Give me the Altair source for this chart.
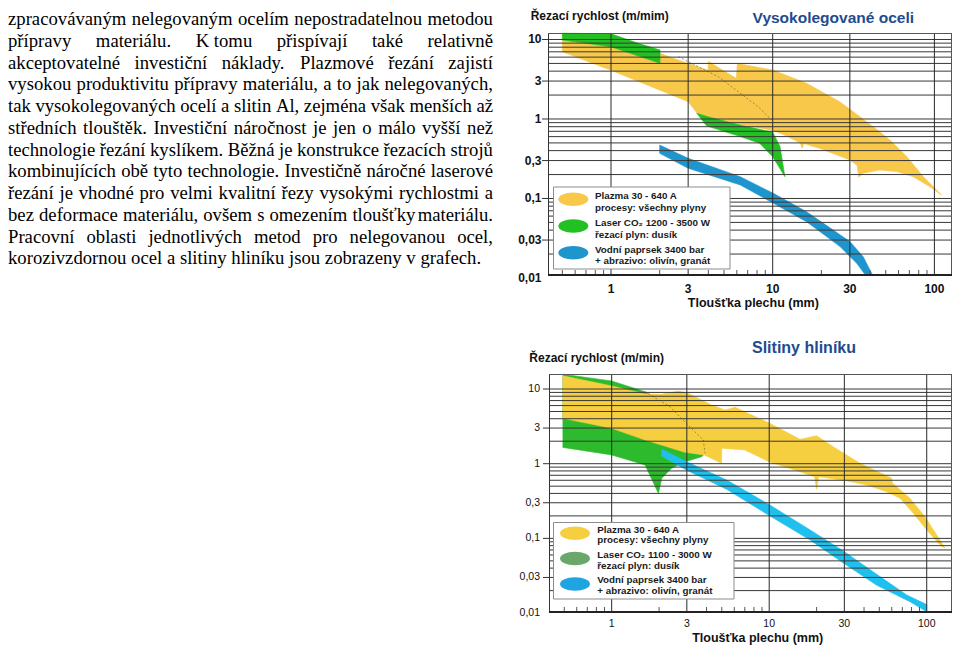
import unicodedata
import altair as alt
import pandas as pd

# ---------------- text of the page ----------------
PARAGRAPH = [
    "zpracovávaným nelegovaným ocelím nepostradatelnou metodou",
    "přípravy materiálu. K\u00a0tomu přispívají také relativně",
    "akceptovatelné investiční náklady. Plazmové řezání zajistí",
    "vysokou produktivitu přípravy materiálu, a to jak nelegovaných,",
    "tak vysokolegovaných ocelí a slitin Al, zejména však menších až",
    "středních tlouštěk. Investiční náročnost je jen o málo vyšší než",
    "technologie řezání kyslíkem. Běžná je konstrukce řezacích strojů",
    "kombinujících obě tyto technologie. Investičně náročné laserové",
    "řezání je vhodné pro velmi kvalitní řezy vysokými rychlostmi a",
    "bez deformace materiálu, ovšem s omezením tloušťky materiálu.",
    "Pracovní oblasti jednotlivých metod pro nelegovanou ocel,",
    "korozivzdornou ocel a slitiny hliníku jsou zobrazeny v grafech.",
]

# ---------------- shared chart texts ----------------
X_TITLE = "Tloušťka plechu (mm)"
Y_TICKS = [10, 3, 1, 0.3, 0.1, 0.03, 0.01]
Y_TICK_LABELS = ["10", "3", "1", "0,3", "0,1", "0,03", "0,01"]
X_TICKS = [1, 3, 10, 30, 100]
X_TICK_LABELS = ["1", "3", "10", "30", "100"]

# ---------------- chart 1: Vysokolegované oceli ----------------
T_TITLE = "Vysokolegované oceli"
T_YTITLE = "Řezací rychlost (m/mim)"
T_LEGEND = [("Plazma 30 - 640 A", "procesy: všechny plyny"),
            ("Laser CO₂  1200 - 3500 W", "řezací plyn: dusík"),
            ("Vodní paprsek 3400 bar", "+ abrazivo: olivín, granát")]

T_PLASMA_X = [0.5, 1.0, 2.0, 3.0, 3.98, 4.0, 5.95, 6.05, 10.0, 16.2, 26.0, 41.9, 53.3, 67.6, 85.5, 111,
              94, 74, 58.5, 46, 36.3, 34, 33.3, 30, 20, 15.6, 15.2, 14.8, 12, 10, 6.6, 4.1, 3.4, 3.0, 1.0, 0.5]
T_PLASMA_Y = [9.8, 8.6, 6.7, 5.0, 4.1, 5.3, 3.25, 5.0, 4.13, 2.81, 1.65, 0.80, 0.54, 0.336, 0.188, 0.11,
              0.14, 0.188, 0.218, 0.228, 0.208, 0.185, 0.26, 0.305, 0.42, 0.49, 0.43, 0.5, 0.62, 0.72, 0.84, 1.05, 1.19, 1.65, 4.1, 7.0]
T_LASER1_X = [0.5, 1.0, 1.475, 2.01, 2.01, 1.0, 0.5]
T_LASER1_Y = [12.0, 11.8, 8.94, 7.37, 5.02, 8.1, 9.85]
T_LASER2_X = [3.39, 4.1, 6.3, 10.0, 11.1, 11.9, 10.0, 8.3, 6.3, 3.9]
T_LASER2_Y = [1.18, 1.05, 0.84, 0.68, 0.45, 0.188, 0.335, 0.495, 0.60, 0.82]
T_WATER_X = [2.0, 3.0, 6.3, 10.1, 16.2, 23.7, 30.1, 36.3, 40.9, 41.6,
             37.4, 33.1, 26.1, 16.2, 10.1, 6.3, 3.0, 2.0]
T_WATER_Y = [0.47, 0.32, 0.188, 0.116, 0.068, 0.040, 0.0286, 0.0185, 0.0115, 0.0109,
             0.0109, 0.0153, 0.0248, 0.051, 0.087, 0.148, 0.24, 0.37]
T_DOTTED_X = [2.61, 4.61, 8.12, 9.85]
T_DOTTED_Y = [6.07, 3.4, 1.43, 0.97]

# ---------------- chart 2: Slitiny hliníku ----------------
B_TITLE = "Slitiny hliníku"
B_YTITLE = "Řezací rychlost (m/min)"
B_LEGEND = [("Plazma 30 - 640 A", "procesy: všechny plyny"),
            ("Laser CO₂ 1100 - 3000 W", "řezací plyn: dusík"),
            ("Vodní paprsek 3400 bar", "+ abrazivo: olivín, granát")]

B_PLASMA_X = [0.49, 1.0, 1.63, 2.08, 2.65, 3.06, 4.31, 5.24, 6.07, 10.0, 15.7, 20.0, 25.5, 37.7, 59.9, 60.5,
              78.3, 97.5, 115.7, 130.6, 121.4, 100, 82.2, 67.7, 55.7, 41.6, 29.5, 20.6, 20.0, 19.4, 15.7,
              10.0, 7.0, 5.0, 4.98, 3.87, 2.92, 1.63, 1.0, 0.49]
B_PLASMA_Y = [15.0, 11.0, 8.6, 8.5, 9.4, 8.75, 6.1, 5.24, 5.69, 3.5, 2.12, 2.37, 1.69, 1.01, 0.64, 0.55,
              0.344, 0.195, 0.111, 0.074, 0.082, 0.13, 0.217, 0.344, 0.422, 0.519, 0.60, 0.67, 0.454, 0.67, 0.78,
              1.06, 1.53, 1.61, 1.01, 1.31, 1.42, 2.08, 2.98, 4.05]
B_LASER_X = [0.49, 1.0, 1.63, 2.34, 3.14, 3.82, 3.91, 3.73, 2.92, 2.40, 2.08, 1.98, 1.63, 1.0, 0.49]
B_LASER_Y = [15.8, 12.8, 9.2, 5.8, 3.1, 2.08, 1.38, 1.24, 1.06, 0.87, 0.64, 0.40, 0.96, 1.31, 1.65]
B_WATER_X = [2.08, 2.99, 5.37, 10.1, 18.2, 29.5, 48.2, 74.6, 100, 100,
             78.3, 48.2, 29.5, 18.2, 10.1, 5.37, 2.99, 2.08]
B_WATER_Y = [1.56, 1.06, 0.605, 0.28, 0.13, 0.068, 0.033, 0.0175, 0.0130, 0.0104,
             0.0142, 0.0235, 0.047, 0.095, 0.2, 0.454, 0.82, 1.27]
B_DOTTED_X = [1.63, 2.34, 3.14, 3.82, 3.91]
B_DOTTED_Y = [9.2, 5.8, 3.1, 2.08, 1.38]

# ---------------- styles ----------------
SANS = "Liberation Sans"
SERIF = "Liberation Serif"
GRID = "#383838"
TITLE_BLUE = "#1f4b8e"
T_COLORS = ["#f8c84a", "#22c022", "#1e96cd"]
B_COLORS = ["#f6cf40", "#2dbb2d", "#20c0ee"]
T_LEG_COLORS = ["#f8c84a", "#22c022", "#1e96cd"]
B_LEG_COLORS = ["#f6cf40", "#6aa86a", "#1ea4e0"]
ELLIPSE = "M-1,0A1,0.45,0,1,1,1,0A1,0.45,0,1,1,-1,0Z"
MINOR_X = [0.5, 0.6, 0.7, 0.8, 0.9, 2, 4, 5, 6, 7, 8, 9, 20, 40, 50, 60, 70, 80, 90]

W, H = 944, 640


def log_grid(lo, hi):
    vals = []
    for e in range(-2, 2):
        for k in range(1, 10):
            v = k * 10 ** e
            if lo < v <= hi:
                vals.append(round(v, 6))
    return vals


def poly(xs, ys, color, sx, sy):
    df = pd.DataFrame({"x": list(xs) + [xs[0]], "y": list(ys) + [ys[0]],
                       "i": list(range(len(xs) + 1))})
    return alt.Chart(df).mark_line(fill=color, stroke=color, strokeWidth=0.6,
                                   strokeJoin="round").encode(
        x=alt.X("x:Q", scale=sx, axis=None),
        y=alt.Y("y:Q", scale=sy, axis=None),
        order=alt.Order("i:Q"))


def dotted(xs, ys, sx, sy):
    df = pd.DataFrame({"x": xs, "y": ys, "i": list(range(len(xs)))})
    return alt.Chart(df).mark_line(color="#6b5b3a", strokeWidth=0.8, strokeDash=[2, 2],
                                   opacity=0.8).encode(
        x=alt.X("x:Q", scale=sx, axis=None),
        y=alt.Y("y:Q", scale=sy, axis=None),
        order=alt.Order("i:Q"))


def one():
    return pd.DataFrame({"k": [0]})


def frame_layers(sx, sy, box, bold_labels, ylab_x, xlab_y, lab_size):
    x0, x1, y0, y1 = box
    dom_y = sy.domain
    dom_x = sx.domain
    layers = []
    hg = pd.DataFrame({"v": log_grid(dom_y[0], dom_y[1])})
    layers.append(alt.Chart(hg).mark_rule(color=GRID, strokeWidth=1).encode(
        y=alt.Y("v:Q", scale=sy, axis=None), x=alt.value(x0), x2=alt.value(x1)))
    vg = pd.DataFrame({"v": X_TICKS})
    layers.append(alt.Chart(vg).mark_rule(color="#2a2a2a", strokeWidth=1).encode(
        x=alt.X("v:Q", scale=sx, axis=None), y=alt.value(y0), y2=alt.value(y1)))
    mt = pd.DataFrame({"v": [v for v in MINOR_X if dom_x[0] < v < dom_x[1]]})
    layers.append(alt.Chart(mt).mark_rule(color="#555555", strokeWidth=1).encode(
        x=alt.X("v:Q", scale=sx, axis=None), y=alt.value(y1 - 5), y2=alt.value(y1)))
    yt = pd.DataFrame({"v": Y_TICKS[:-1]})
    layers.append(alt.Chart(yt).mark_rule(color="#333333", strokeWidth=1).encode(
        y=alt.Y("v:Q", scale=sy, axis=None), x=alt.value(x0 - 6), x2=alt.value(x0)))
    # frame
    layers.append(alt.Chart(one()).mark_rule(color="#333333", strokeWidth=1).encode(
        x=alt.value(x0 + 0.5), y=alt.value(y0), y2=alt.value(y1)))
    layers.append(alt.Chart(one()).mark_rule(color="#555555", strokeWidth=1).encode(
        x=alt.value(x1 - 0.5), y=alt.value(y0), y2=alt.value(y1)))
    layers.append(alt.Chart(one()).mark_rule(color="#555555", strokeWidth=1).encode(
        y=alt.value(y0 + 0.5), x=alt.value(x0), x2=alt.value(x1)))
    layers.append(alt.Chart(one()).mark_rule(color="#222222", strokeWidth=2).encode(
        y=alt.value(y1), x=alt.value(x0), x2=alt.value(x1)))
    weight = "bold" if bold_labels else "normal"
    yl = pd.DataFrame({"v": Y_TICKS, "t": Y_TICK_LABELS})
    layers.append(alt.Chart(yl).mark_text(align="right", baseline="middle", font=SANS,
                                          fontSize=lab_size, fontWeight=weight,
                                          color="#111111").encode(
        y=alt.Y("v:Q", scale=sy, axis=None), x=alt.value(ylab_x), text="t:N"))
    xl = pd.DataFrame({"v": X_TICKS, "t": X_TICK_LABELS})
    layers.append(alt.Chart(xl).mark_text(align="center", baseline="alphabetic", font=SANS,
                                          fontSize=lab_size, fontWeight=weight,
                                          color="#111111").encode(
        x=alt.X("v:Q", scale=sx, axis=None), y=alt.value(xlab_y), text="t:N"))
    return layers


def legend(entries, colors, box, ex, ey, dy, tx, l1, l2):
    x0, x1, y0, y1 = box
    out = [alt.Chart(one()).mark_rect(fill="white", stroke="#8c8c8c", strokeWidth=1).encode(
        x=alt.value(x0), x2=alt.value(x1), y=alt.value(y0), y2=alt.value(y1))]
    edf = pd.DataFrame({"c": colors, "x": [ex] * 3, "y": [ey + j * dy for j in range(3)]})
    out.append(alt.Chart(edf).mark_point(shape=ELLIPSE, size=900, filled=True, opacity=1).encode(
        x=alt.X("x:Q", scale=None), y=alt.Y("y:Q", scale=None),
        color=alt.Color("c:N", scale=None)))
    rows = []
    for j, (a, b) in enumerate(entries):
        rows.append((a, ey + j * dy + l1))
        rows.append((b, ey + j * dy + l2))
    tdf = pd.DataFrame({"t": [r[0] for r in rows], "y": [r[1] for r in rows],
                        "x": [tx] * len(rows)})
    out.append(alt.Chart(tdf).mark_text(align="left", baseline="middle", font=SANS,
                                        fontSize=9.8, fontWeight="bold",
                                        color="#1a1a1a").encode(
        x=alt.X("x:Q", scale=None), y=alt.Y("y:Q", scale=None), text="t:N"))
    return out


def label(text, x, y, size, weight="bold", color="#111111", align="left"):
    return alt.Chart(pd.DataFrame({"t": [text]})).mark_text(
        align=align, baseline="alphabetic", font=SANS, fontSize=size,
        fontWeight=weight, color=color).encode(
        x=alt.value(x), y=alt.value(y), text="t:N")


# ---------------- chart 1 ----------------
tsx = alt.Scale(type="log", domain=[0.4077, 128.5], range=[540, 944], nice=False)
tsy = alt.Scale(type="log", domain=[0.0109, 12.07], range=[267, 25], nice=False)
T_BOX = (540, 944, 25, 267)

top_layers = [
    poly(T_PLASMA_X, T_PLASMA_Y, T_COLORS[0], tsx, tsy),
    poly(T_LASER1_X, T_LASER1_Y, T_COLORS[1], tsx, tsy),
    poly(T_LASER2_X, T_LASER2_Y, T_COLORS[1], tsx, tsy),
    poly(T_WATER_X, T_WATER_Y, T_COLORS[2], tsx, tsy),
    dotted(T_DOTTED_X, T_DOTTED_Y, tsx, tsy),
] + frame_layers(tsx, tsy, T_BOX, True, 533.5, 285, 12)
top = alt.layer(*top_layers)

# ---------------- chart 2 ----------------
bsx = alt.Scale(type="log", domain=[0.400, 144.7], range=[541, 944], nice=False)
bsy = alt.Scale(type="log", domain=[0.01034, 15.88], range=[604, 366], nice=False)
B_BOX = (541, 944, 366, 604)

bot_layers = [
    poly(B_LASER_X, B_LASER_Y, B_COLORS[1], bsx, bsy),
    poly(B_PLASMA_X, B_PLASMA_Y, B_COLORS[0], bsx, bsy),
    poly(B_WATER_X, B_WATER_Y, B_COLORS[2], bsx, bsy),
    dotted(B_DOTTED_X, B_DOTTED_Y, bsx, bsy),
] + frame_layers(bsx, bsy, B_BOX, False, 532, 619, 10.5)
bot = alt.layer(*bot_layers)

# ---------------- paragraph (justified) ----------------
TIMES_W = {
    'a': 444, 'b': 500, 'c': 444, 'd': 500, 'e': 444, 'f': 333, 'g': 500, 'h': 500, 'i': 278,
    'j': 278, 'k': 500, 'l': 278, 'm': 778, 'n': 500, 'o': 500, 'p': 500, 'q': 500, 'r': 333,
    's': 389, 't': 278, 'u': 500, 'v': 500, 'w': 722, 'x': 500, 'y': 500, 'z': 444,
    'A': 722, 'B': 667, 'C': 667, 'D': 722, 'E': 611, 'F': 556, 'G': 722, 'H': 722, 'I': 333,
    'J': 389, 'K': 722, 'L': 611, 'M': 889, 'N': 722, 'O': 722, 'P': 556, 'Q': 722, 'R': 667,
    'S': 556, 'T': 611, 'U': 722, 'V': 722, 'W': 944, 'X': 722, 'Y': 722, 'Z': 611,
    ' ': 250, '\u00a0': 250, '.': 250, ',': 250, ':': 278, ';': 278, '-': 333, '(': 333, ')': 333,
}
FS = 18.7


def tw(s):
    total = 0
    for ch in s:
        base = unicodedata.normalize("NFD", ch)[0]
        total += TIMES_W.get(base, 500)
    return total * FS / 1000.0


LINE_W = 485
words = []
for li, line in enumerate(PARAGRAPH):
    ws = line.split(" ")
    y = 17 + 21.75 * li
    widths = [tw(w) for w in ws]
    if li < len(PARAGRAPH) - 1 and len(ws) > 1:
        gap = (LINE_W - sum(widths)) / (len(ws) - 1)
    else:
        gap = tw(" ")
    x = 0.0
    for w, wd in zip(ws, widths):
        words.append({"w": w, "x": x, "y": y})
        x += wd + gap
para = alt.Chart(pd.DataFrame(words)).mark_text(
    align="left", baseline="alphabetic", font=SERIF, fontSize=FS, color="#000000").encode(
    x=alt.X("x:Q", scale=None), y=alt.Y("y:Q", scale=None), text="w:N")

overlays = [para]
overlays += legend(T_LEGEND, T_LEG_COLORS, (545.5, 722, 179, 261), 565.3, 191.3, 26.7, 587, -3, 8.5)
overlays += legend(B_LEGEND, B_LEG_COLORS, (545.5, 726, 514.5, 591), 567, 525.3, 25.3, 589.3, -3.5, 7)
overlays += [
    label(T_YTITLE, 522.7, 12, 12),
    label(T_TITLE, 825.3, 14.5, 15.5, color=TITLE_BLUE, align="center"),
    label(X_TITLE, 745.3, 298.7, 12.5, align="center"),
    label(B_YTITLE, 521.3, 353.7, 12),
    label(B_TITLE, 796, 345.3, 16, color=TITLE_BLUE, align="center"),
    label(X_TITLE, 749.7, 633.7, 12.5, align="center"),
]

chart = alt.layer(top, bot, *overlays).resolve_scale(
    x="independent", y="independent"
).properties(
    width=W, height=H, autosize=alt.AutoSizeParams(type="none"), padding=0,
    background="white"
).configure_view(stroke=None)

chart.save("out.html", embed_options={"renderer": "svg", "actions": False})
